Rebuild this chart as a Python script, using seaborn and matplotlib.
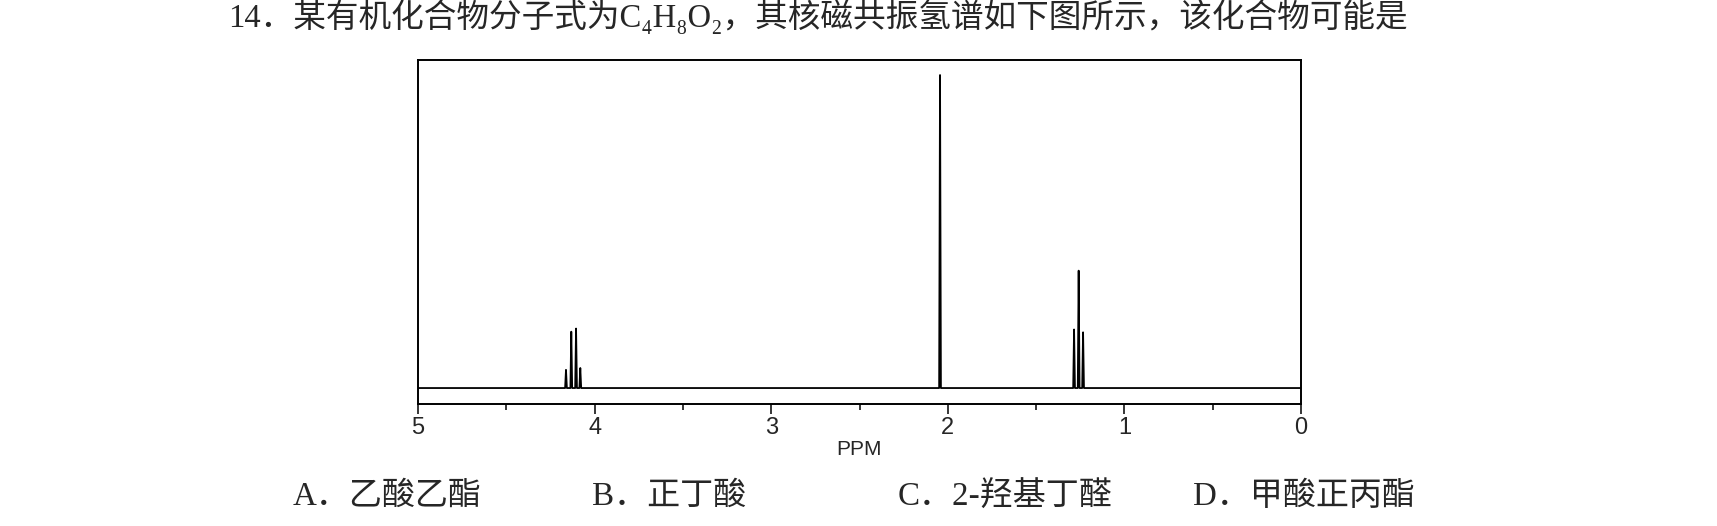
# 核磁共振氢谱 (C4H8O2) 重绘
import pandas as pd
import seaborn as sns
import matplotlib.pyplot as plt
from matplotlib.ticker import MultipleLocator

# 数据：各峰的化学位移(ppm)和相对高度(最高峰 = 1)
quartet_ppm = [4.162, 4.132, 4.105, 4.081]
quartet_h = [0.058, 0.18, 0.19, 0.064]
singlet_ppm = [2.044]
singlet_h = [1.0]
triplet_ppm = [1.285, 1.259, 1.234]
triplet_h = [0.187, 0.375, 0.178]

x_ticks = [5, 4, 3, 2, 1, 0]
title_text = '14．某有机化合物分子式为C₄H₈O₂，其核磁共振氢谱如下图所示，该化合物可能是'
options = ['A．乙酸乙酯', 'B．正丁酸', 'C．2-羟基丁醛', 'D．甲酸正丙酯']
option_x = [293, 592, 898, 1193]  # 选项左端位置(像素)

sns.set_theme(style='ticks')
plt.rcParams['font.family'] = ['Liberation Serif', 'DejaVu Serif', 'Noto Sans CJK SC']

# 把峰列表连成一条谱线(从 5 ppm 到 0 ppm)
peaks = sorted(zip(quartet_ppm + singlet_ppm + triplet_ppm,
                   quartet_h + singlet_h + triplet_h), reverse=True)
w = 0.005
xs, ys = [5.0], [0.0]
for p, h in peaks:
    xs += [p + w, p, p - w]
    ys += [0.0, h, 0.0]
xs.append(0.0)
ys.append(0.0)
df = pd.DataFrame({'ppm': xs, 'intensity': ys})

W, H = 1717, 526
fig = plt.figure(figsize=(W / 100, H / 100), dpi=100)
fig.patch.set_facecolor('white')
ax = fig.add_axes([418 / W, 1 - 404 / H, 883 / W, 344 / H])

sns.lineplot(data=df, x='ppm', y='intensity', sort=False, estimator=None,
             color='black', linewidth=1.3, ax=ax)

ax.set_xlim(5, 0)
ax.set_ylim(-0.051, 1.048)
ax.set_yticks([])
ax.set_ylabel('')
ax.set_xticks(x_ticks)
ax.xaxis.set_minor_locator(MultipleLocator(0.5))
ax.tick_params(axis='x', which='major', length=7, width=1.1, direction='out',
               labelsize=17, pad=2, color='black')
ax.tick_params(axis='x', which='minor', length=4.5, width=1.1, direction='out',
               color='black')
for lab in ax.get_xticklabels():
    lab.set_family('Liberation Sans')
ax.set_xlabel('PPM', fontsize=15, family='Liberation Sans', labelpad=1)
for s in ax.spines.values():
    s.set_visible(True)
    s.set_color('black')
    s.set_linewidth(1.4)

# 题目和选项
fig.text(228 / W, 1 - 17 / H, title_text, fontsize=23.5, ha='left', va='center')
for x, t in zip(option_x, options):
    fig.text(x / W, 1 - 497 / H, t, fontsize=23.8, ha='left', va='center')

fig.savefig('out.png', dpi=100, facecolor='white')
